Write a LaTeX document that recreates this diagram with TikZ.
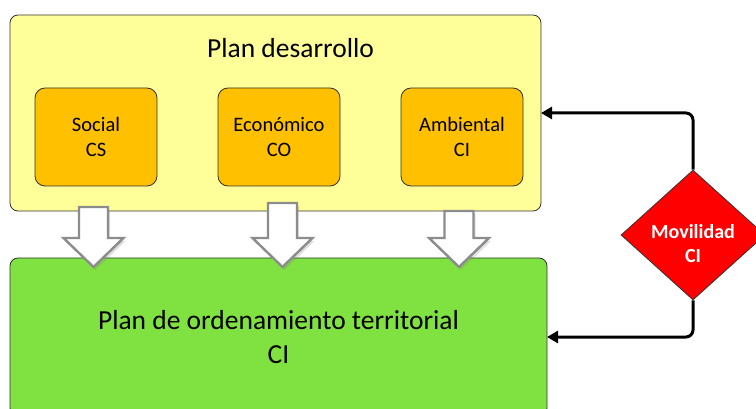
\documentclass[tikz,border=0pt]{standalone}
\usepackage{fontspec}
\setmainfont{Carlito}
\usetikzlibrary{positioning, shapes.geometric, arrows.meta, shadows}
\definecolor{pdyellow}{HTML}{FFFF99}
\definecolor{suborange}{HTML}{FFC000}
\definecolor{potgreen}{HTML}{80E241}
\definecolor{arrowgray}{HTML}{8C8C8C}
\tikzset{
x=1pt, y=-1pt, % pixel like coordinates, origin top left
plan/.style={draw=black!80, line width=0.8pt, rounded corners=8pt, outer sep=0pt, inner sep=0pt}, % the two big boxes
sub/.style={plan, fill=suborange, rounded corners=10pt, minimum width=122pt, minimum height=98pt, align=center, font=\fontsize{20.5}{24.5}\selectfont}, % the three parts of the plan
decision/.style={diamond, draw=black!80, line width=0.8pt, fill=red, minimum width=144pt, minimum height=130pt, inner sep=0pt},
decisiontext/.style={text=white, align=center, font=\bfseries\fontsize{20}{24}\selectfont},
feed/.style={-{Triangle[length=11pt,width=12pt]}, line width=3pt, rounded corners=7pt}, % black feedback lines
blockarrow/.style={draw=arrowgray, fill=white, line width=2.4pt, drop shadow={opacity=0.25, shadow xshift=2pt, shadow yshift=-3pt}},
}

\begin{document}
\begin{tikzpicture}
        \clip (0,0) rectangle (756,409);
        \node[plan, fill=pdyellow, minimum width=531pt, minimum height=196pt] (pd) at (275.5,113) {};
        \node[anchor=base, font=\fontsize{27.5}{33}\selectfont] (pdt) at ([xshift=15pt, yshift=-43pt]pd.north) {Plan desarrollo};
        \node[sub] (soc) at (96,137) {Social\\CS};
        \node[sub, right=61pt of soc] (eco) {Económico\\CO};
        \node[sub, right=61pt of eco] (amb) {Ambiental\\CI};
        \node[plan, fill=potgreen, minimum width=537pt, minimum height=158pt, align=center, font=\fontsize{27.5}{34}\selectfont] (pot) at (278.5,337) {Plan de ordenamiento territorial\\CI};
        %Block arrows
        \foreach \cx/\top in {93.5/207, 282.5/203, 459/211}
            \draw[blockarrow] (\cx-14.5,\top) -- (\cx+14.5,\top) -- (\cx+14.5,238) -- (\cx+30,238)
                -- (\cx,267) -- (\cx-30,238) -- (\cx-14.5,238) -- cycle;
        \node[decision] (mov) at (693,235) {};
        \node[decisiontext] (movt) at ([yshift=-9pt]mov.center) {Movilidad\\CI};
        %Feedback arrows
        \draw[feed] (mov.north) |- (pd.east);
        \draw[feed] (mov.south) |- (pot.east);
\end{tikzpicture}
\end{document}
